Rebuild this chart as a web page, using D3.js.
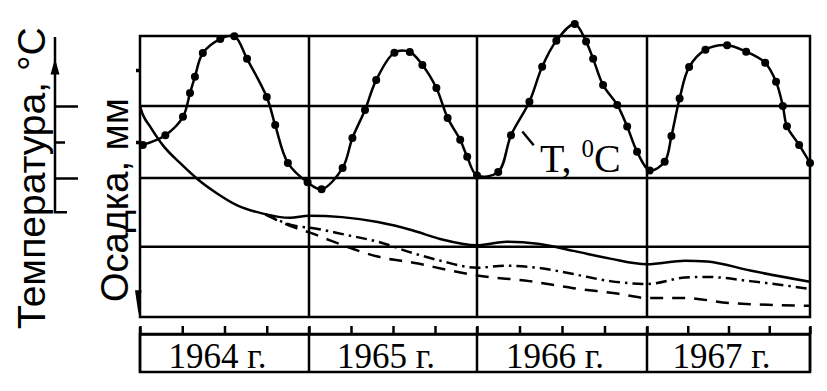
<!DOCTYPE html>
<html>
<head>
<meta charset="utf-8">
<script src="https://cdnjs.cloudflare.com/ajax/libs/d3/7.8.5/d3.min.js"></script>
<style>
  body { margin: 0; background: #fff; }
  svg { display: block; }
</style>
</head>
<body>
<div class="container"></div>
<script>
// time is counted in months from January 1964
var years = ['1964 г.', '1965 г.', '1966 г.', '1967 г.'];
var yearEdges = [0, 12, 24, 36, 48];
var quarterTicks = d3.range(0, 49, 3);

// air temperature, deg C
var tempMonths = [0.2, 1.8, 3.05, 3.55, 3.9, 4.46, 5.7, 6.7, 7.6, 9.0, 9.6, 10.5, 11.9,
  12.9, 14.4, 15.1, 16.0, 16.8, 18.1, 19.2, 20.1, 21.1, 21.9, 22.8, 23.3, 24.0,
  25.5, 26.4, 27.7, 28.6, 29.6, 30.9, 31.7, 32.2, 32.9, 33.9, 34.6, 35.3, 36.2,
  37.3, 37.8, 38.4, 39.1, 40.3, 41.9, 43.3, 44.7, 45.5, 46.0, 46.3, 47.2, 48.0];
var tempValues = [-0.8, 1.9, 7.0, 13.6, 18.1, 24.7, 28.6, 29.4, 23.1, 12.5, 4.7, -5.8, -11.2,
  -13.1, -7.2, 1.1, 8.9, 17.2, 24.8, 25.0, 21.4, 15.0, 6.7, 0.6, -4.1, -9.3,
  -8.3, 1.9, 11.2, 20.9, 28.1, 32.8, 27.9, 23.1, 15.8, 10.3, 4.3, -2.7, -7.9,
  -5.5, 1.7, 12.1, 20.8, 25.6, 26.9, 25.1, 22.0, 16.75, 10.0, 4.4, -0.8, -5.8];
var tempTicks = [-10, 0, 10];

// settlement, mm
var solidMonths = [0, 0.2, 0.71, 1.63, 2.84, 4.03, 5.45, 6.87, 8.73, 10.65, 12.0, 14.36, 16.91,
  19.43, 21.36, 24.0, 26.1, 28.3, 30.8, 33.4, 36.0, 38.8, 40.4, 43.6, 48.0];
var solidValues = [0, 1.2, 2.9, 5.6, 8.1, 10.3, 12.4, 14.1, 15.3, 15.9, 15.6, 15.8, 16.5,
  17.7, 18.9, 19.8, 19.3, 19.6, 20.6, 21.7, 22.5, 22.0, 22.1, 23.4, 25.0];
var dashDotMonths = [8.9, 11.15, 12.07, 14.6, 17.1, 19.4, 21.4, 24.0, 26.1, 28.3, 30.8,
  33.4, 36.0, 38.8, 40.4, 43.6, 48.0];
var dashDotValues = [15.4, 17.1, 17.3, 18.3, 19.4, 20.9, 22.0, 23.0, 22.7, 23.0, 23.9,
  24.9, 25.3, 24.4, 24.3, 24.9, 26.0];
var dashMonths = [8.9, 11.0, 12.07, 13.5, 16.9, 19.8, 22.1, 24.0, 27.7, 30.8, 34.0,
  36.0, 38.8, 42.0, 48.0];
var dashValues = [15.4, 17.3, 18.0, 19.1, 21.4, 22.4, 23.4, 24.1, 24.9, 25.9, 26.7,
  27.3, 27.3, 28.0, 28.4];

const WIDTH = 827;
const HEIGHT = 391;
const TOP = 36;
const BOTTOM = 317;
const AXIS_Y = 334;
const BOX_BOTTOM = 372;
const LW = 2.5;

var _svg, _x, _tempY, _settleY;

var translate = function (x, y) {
  return "translate(" + x + "," + y + ")";
};

var zip = function (xs, ys) {
  return xs.map(function (m, i) { return [m, ys[i]]; });
};

var createScales = function () {
  _svg = d3.select('.container').append('svg')
    .attr('width', WIDTH)
    .attr('height', HEIGHT);

  _x = d3.scaleLinear()
    .domain(yearEdges)
    .range([140, 309, 477, 647, 810]);

  _tempY = d3.scaleLinear()
    .domain([-10, 10])
    .range([178, 106]);

  _settleY = d3.scaleLinear()
    .domain([0, 30])
    .range([106, BOTTOM]);
};

var drawGrid = function () {
  var g = _svg.append('g')
    .attr('stroke', '#000')
    .attr('stroke-width', LW)
    .attr('fill', 'none');

  g.append('rect')
    .attr('x', _x(0)).attr('y', TOP)
    .attr('width', _x(48) - _x(0))
    .attr('height', BOTTOM - TOP);

  var rows = [_tempY(10), _tempY(-10), _settleY(20)];
  g.selectAll('.hrow').data(rows).enter().append('line')
    .attr('x1', _x(0)).attr('x2', _x(48))
    .attr('y1', function (d) { return d; })
    .attr('y2', function (d) { return d; });

  g.selectAll('.vcol').data(yearEdges.slice(1, 4)).enter().append('line')
    .attr('x1', function (d) { return _x(d); })
    .attr('x2', function (d) { return _x(d); })
    .attr('y1', TOP).attr('y2', BOTTOM);

  // small temperature ticks on the left side of the frame
  var leftAxis = d3.axisLeft(_tempY).tickValues([20, 0]).tickSize(4)
    .tickSizeOuter(0).tickFormat('');
  var la = _svg.append('g').attr('transform', translate(_x(0), 0)).call(leftAxis);
  la.select('.domain').remove();
  la.selectAll('line').attr('stroke-width', 3.5);

  // settlement arrow pointing down
  var tip = _settleY(29.6);
  _svg.append('path')
    .attr('d', d3.line()([[_x(0) - 5, tip - 24], [_x(0) + 1.5, tip - 24], [_x(0) - 1.5, tip]]))
    .attr('fill', '#000');
};

var drawTempAxis = function () {
  var ax = 55;
  var axis = d3.axisRight(_tempY).tickValues(tempTicks).tickSize(23)
    .tickSizeOuter(0).tickFormat('');
  var g = _svg.append('g').attr('transform', translate(ax, 0)).call(axis);
  g.select('.domain').remove();
  g.selectAll('line').attr('stroke', '#000').attr('stroke-width', LW);
  g.selectAll('.tick').filter(function (d) { return d === 0; })
    .select('line').attr('x2', 10);

  var foot = _tempY(-19.5);
  _svg.append('path')
    .attr('d', d3.line()([[ax, 37], [ax, foot], [ax + 12, foot]]))
    .attr('fill', 'none')
    .attr('stroke', '#000')
    .attr('stroke-width', LW);

  var tipY = _tempY(23.2);
  _svg.append('path')
    .attr('d', d3.line()([[ax - 4.5, tipY + 16], [ax + 4.5, tipY + 16], [ax, tipY]]))
    .attr('fill', '#000');
};

var drawTimeAxis = function () {
  var axis = d3.axisTop(_x).tickValues(quarterTicks).tickSize(8)
    .tickSizeOuter(0).tickFormat('');
  var g = _svg.append('g').attr('transform', translate(0, AXIS_Y)).call(axis);
  g.selectAll('line, path').attr('stroke', '#000').attr('stroke-width', LW);

  _svg.append('rect')
    .attr('x', _x(0)).attr('y', AXIS_Y)
    .attr('width', _x(48) - _x(0))
    .attr('height', BOX_BOTTOM - AXIS_Y)
    .attr('fill', 'none')
    .attr('stroke', '#000')
    .attr('stroke-width', LW);

  _svg.selectAll('.ydiv').data(yearEdges).enter().append('line')
    .attr('x1', function (d) { return _x(d); })
    .attr('x2', function (d) { return _x(d); })
    .attr('y1', AXIS_Y - 7).attr('y2', BOX_BOTTOM)
    .attr('stroke', '#000')
    .attr('stroke-width', LW);

  _svg.selectAll('.ylab').data(years).enter().append('text')
    .attr('x', function (d, i) { return (_x(yearEdges[i]) + _x(yearEdges[i + 1])) / 2 - 7; })
    .attr('y', 368)
    .attr('text-anchor', 'middle')
    .style('font-family', '"Liberation Serif", "Times New Roman", serif')
    .style('font-size', '35px')
    .text(function (d) { return d; });
};

var drawSettlement = function () {
  var line = d3.line()
    .x(function (d) { return _x(d[0]); })
    .y(function (d) { return _settleY(d[1]); })
    .curve(d3.curveMonotoneX);

  var series = [
    { pts: zip(solidMonths, solidValues), dash: null },
    { pts: zip(dashDotMonths, dashDotValues), dash: '11,5,2.5,5' },
    { pts: zip(dashMonths, dashValues), dash: '13,9' }
  ];

  _svg.selectAll('.settle').data(series).enter().append('path')
    .attr('d', function (d) { return line(d.pts); })
    .attr('fill', 'none')
    .attr('stroke', '#000')
    .attr('stroke-width', LW)
    .attr('stroke-dasharray', function (d) { return d.dash; });
};

var drawTemperature = function () {
  var pts = zip(tempMonths, tempValues);
  var line = d3.line()
    .x(function (d) { return _x(d[0]); })
    .y(function (d) { return _tempY(d[1]); })
    .curve(d3.curveCatmullRom.alpha(0.5));

  _svg.append('path')
    .attr('d', line(pts))
    .attr('fill', 'none')
    .attr('stroke', '#000')
    .attr('stroke-width', LW);

  _svg.selectAll('.tdot').data(pts).enter().append('circle')
    .attr('cx', function (d) { return _x(d[0]); })
    .attr('cy', function (d) { return _tempY(d[1]); })
    .attr('r', 4)
    .attr('fill', '#000');

  // label with a short leader
  _svg.append('line')
    .attr('x1', _x(27.2)).attr('y1', _tempY(2.9))
    .attr('x2', _x(28.0)).attr('y2', _tempY(-0.9))
    .attr('stroke', '#000')
    .attr('stroke-width', LW);

  var lab = _svg.append('text')
    .attr('x', _x(28.45))
    .attr('y', _tempY(-8.2))
    .style('font-family', '"Liberation Serif", "Times New Roman", serif')
    .style('font-size', '40px');
  lab.append('tspan').text('T, ');
  lab.append('tspan').attr('dy', -15).style('font-size', '25px').text('0');
  lab.append('tspan').attr('dy', 15).text('C');
};

var drawTitles = function () {
  var font = '"Liberation Sans", Arial, sans-serif';
  _svg.append('text')
    .attr('transform', translate(45, 329) + ' rotate(-90)')
    .style('font-family', font)
    .style('font-size', '39px')
    .text('Температура, °C');

  _svg.append('text')
    .attr('transform', translate(128, 302) + ' rotate(-90)')
    .style('font-family', font)
    .style('font-size', '38px')
    .text('Осадка, мм');
};

var onload = function () {
  createScales();
  drawGrid();
  drawTempAxis();
  drawTimeAxis();
  drawSettlement();
  drawTemperature();
  drawTitles();
};

window.onload = onload;
</script>
</body>
</html>
